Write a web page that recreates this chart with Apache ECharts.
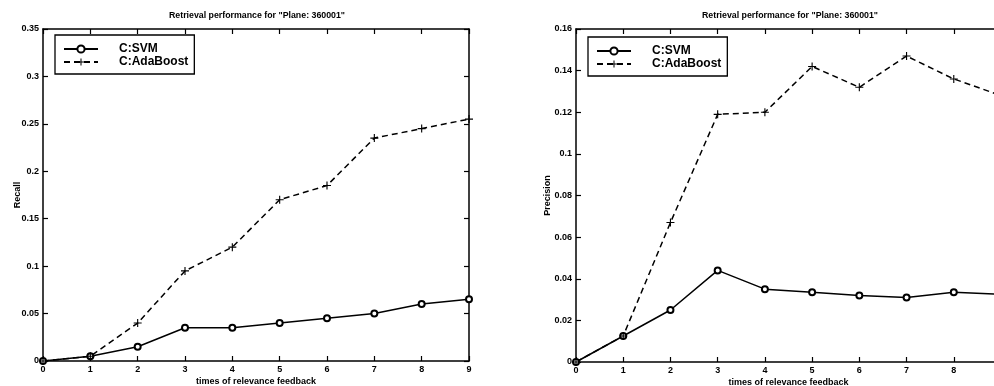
<!DOCTYPE html>
<html>
<head>
<meta charset="utf-8">
<script src="https://cdn.jsdelivr.net/npm/echarts@6/dist/echarts.min.js"></script>
<style>
  html, body { margin: 0; padding: 0; background: #fff; overflow: hidden; }
  #container { width: 994px; height: 386px; }
</style>
</head>
<body>
<div id="container"></div>
<script>
var feedback = [0, 1, 2, 3, 4, 5, 6, 7, 8, 9];
var recallSVM = [0, 0.005, 0.015, 0.035, 0.035, 0.04, 0.045, 0.05, 0.06, 0.065];
var recallAda = [0, 0.005, 0.04, 0.095, 0.12, 0.17, 0.185, 0.235, 0.245, 0.255];
var precSVM = [0, 0.0125, 0.025, 0.044, 0.035, 0.0335, 0.032, 0.031, 0.0335, 0.0325];
var precAda = [0, 0.0125, 0.067, 0.119, 0.12, 0.142, 0.132, 0.147, 0.136, 0.128];
var titleText = 'Retrieval performance for "Plane: 360001"';

var dom = document.getElementById("container");
var myChart = echarts.init(dom, null, {width: 994, height: 386});

var font = 'Liberation Sans, Arial, sans-serif';
var plus = 'path://M-0.14,-1h0.28v0.86h0.86v0.28h-0.86v0.86h-0.28v-0.86h-0.86v-0.28h0.86z';

function pairs(ys) {
    return feedback.map(function (x, i) { return [x, ys[i]]; });
}

function xAx(idx, pos, labels) {
    return {
        type: 'value', gridIndex: idx, position: pos, min: 0, max: 9, interval: 1,
        name: labels ? 'times of relevance feedback' : '',
        nameLocation: 'middle', nameGap: 16, nameMoveOverlap: false,
        nameTextStyle: {fontFamily: font, fontSize: 9, fontWeight: 'bold', color: '#000'},
        axisLine: {show: true, onZero: false, lineStyle: {color: '#000', width: 1.5}},
        axisTick: {show: true, inside: true, length: 5, lineStyle: {color: '#000', width: 1.2}},
        axisLabel: {show: labels, margin: 4, fontFamily: font, fontSize: 9, fontWeight: 'bold', color: '#000'},
        splitLine: {show: false}
    };
}

function yAx(idx, pos, max, step, name) {
    return {
        type: 'value', gridIndex: idx, position: pos, min: 0, max: max, interval: step,
        name: name || '', nameLocation: 'middle', nameGap: name === 'Recall' ? 21 : 24,
        nameMoveOverlap: false,
        nameTextStyle: {fontFamily: font, fontSize: 9, fontWeight: 'bold', color: '#000'},
        axisLine: {show: true, onZero: false, lineStyle: {color: '#000', width: 1.5}},
        axisTick: {show: true, inside: true, length: 5, lineStyle: {color: '#000', width: 1.2}},
        axisLabel: {show: !!name, margin: 4, fontFamily: font, fontSize: 9, fontWeight: 'bold', color: '#000'},
        splitLine: {show: false}
    };
}

function svmSeries(idx, ys) {
    return {
        name: 'C:SVM', type: 'line', xAxisIndex: idx * 2, yAxisIndex: idx * 2,
        data: pairs(ys), symbol: 'emptyCircle', symbolSize: 6, showAllSymbol: true,
        itemStyle: {color: '#000', borderWidth: 1.3},
        lineStyle: {color: '#000', width: 1.5, type: 'solid'},
        animation: false
    };
}

function adaSeries(idx, ys) {
    return {
        name: 'C:AdaBoost', type: 'line', xAxisIndex: idx * 2, yAxisIndex: idx * 2,
        data: pairs(ys), symbol: plus, symbolSize: 8, showAllSymbol: true,
        itemStyle: {color: '#000'},
        lineStyle: {color: '#000', width: 1.5, type: [6, 4]},
        animation: false
    };
}

function legendAt(left, top) {
    return {
        orient: 'vertical', left: left, top: top,
        data: ['C:SVM', 'C:AdaBoost'],
        backgroundColor: '#fff', borderColor: '#000', borderWidth: 1.3,
        padding: [8, 6, 6, 8], itemGap: 1, itemWidth: 34, itemHeight: 9,
        textStyle: {fontFamily: font, fontSize: 12, fontWeight: 'bold', color: '#000',
            padding: [0, 0, 0, 16]},
        selectedMode: false
    };
}

option = {
    backgroundColor: '#fff',
    animation: false,
    title: [
        {text: titleText, left: 257, top: 11, textAlign: 'center', padding: 0,
            textStyle: {fontFamily: font, fontSize: 8.8, fontWeight: 'bold', color: '#000'}},
        {text: titleText, left: 790, top: 11, textAlign: 'center', padding: 0,
            textStyle: {fontFamily: font, fontSize: 8.8, fontWeight: 'bold', color: '#000'}}
    ],
    grid: [
        {left: 43, top: 29, width: 426, height: 332, outerBoundsMode: 'none', containLabel: false},
        {left: 576, top: 29, width: 425, height: 333, outerBoundsMode: 'none', containLabel: false}
    ],
    legend: [legendAt(55, 35), legendAt(588, 37)],
    xAxis: [xAx(0, 'bottom', true), xAx(0, 'top', false), xAx(1, 'bottom', true), xAx(1, 'top', false)],
    yAxis: [yAx(0, 'left', 0.35, 0.05, 'Recall'), yAx(0, 'right', 0.35, 0.05, ''),
        yAx(1, 'left', 0.16, 0.02, 'Precision'), yAx(1, 'right', 0.16, 0.02, '')],
    series: [
        svmSeries(0, recallSVM), adaSeries(0, recallAda),
        svmSeries(1, precSVM), adaSeries(1, precAda)
    ]
};

if (option && typeof option === "object") {
    myChart.setOption(option, true);
}
</script>
</body>
</html>
